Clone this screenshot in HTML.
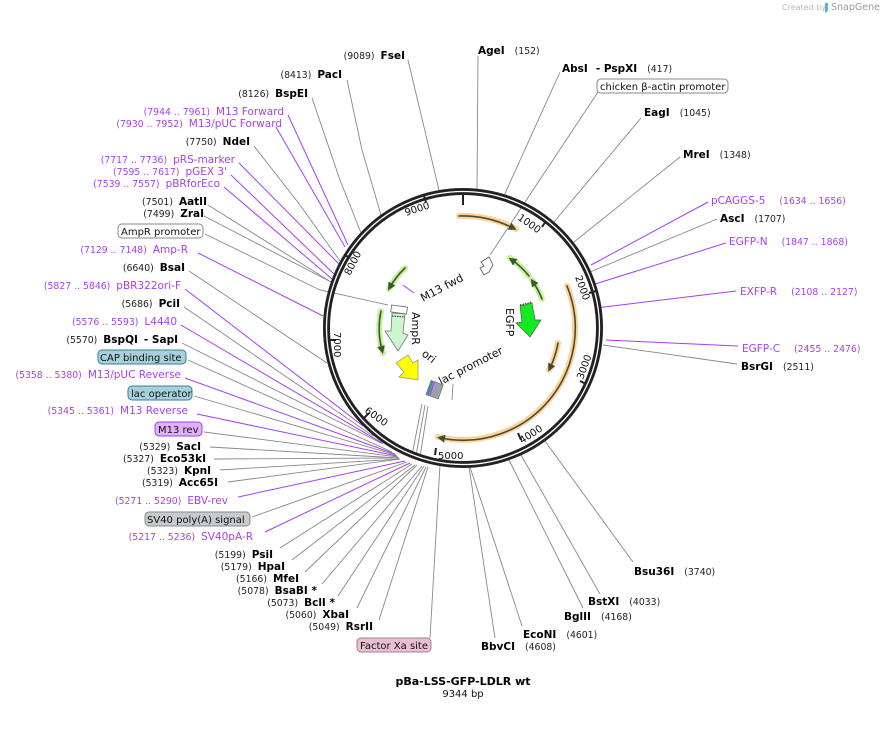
<!DOCTYPE html>
<html><head><meta charset="utf-8"><style>
html,body{margin:0;padding:0;background:#fff;}
svg{display:block;font-family:"DejaVu Sans","Liberation Sans",sans-serif;}
.n{font-size:9.3px;fill:#222;}
.b{font-size:10.5px;font-weight:bold;fill:#000;}
.p{font-size:10.5px;fill:#a63ff0;}
.pn{font-size:9.3px;fill:#a63ff0;}
.l{stroke:#888;stroke-width:0.9;fill:none;}
.lp{stroke:#a63ff0;stroke-width:1;fill:none;}
.t{font-size:10px;fill:#111;}
</style></head><body>
<svg width="880" height="730" viewBox="0 0 880 730" xmlns="http://www.w3.org/2000/svg">
<defs>
<marker id="ao" viewBox="0 0 10 10" refX="5" refY="5" markerWidth="5" markerHeight="5" orient="auto"><path d="M0,0 L10,5 L0,10 z" fill="#4a4a30"/></marker>
<marker id="ag" viewBox="0 0 10 10" refX="5" refY="5" markerWidth="5" markerHeight="5" orient="auto"><path d="M0,0 L10,5 L0,10 z" fill="#3a5a2a"/></marker>
</defs>
<text x="782" y="10" font-size="8" fill="#bbb">Created by</text>
<path d="M825,3 h3 v8 l-3,2 z" fill="#5ab0e0"/>
<text x="831" y="10" font-size="9.5" fill="#999">SnapGene</text>

<g class="l">
<line x1="408" y1="60" x2="439" y2="190"/>
<polyline points="347,80 362,150 381,215"/>
<polyline points="312,98 340,180 361,233"/>
<polyline points="254,146 300,205 340,261"/>
<line x1="208" y1="205" x2="331" y2="282"/>
<line x1="204" y1="216" x2="331" y2="282"/>
<polyline points="205,234 320,290 388,305"/>
<line x1="189" y1="271" x2="327" y2="363"/>
<line x1="184" y1="307" x2="373" y2="436"/>
<line x1="182" y1="343" x2="383" y2="444"/>
<line x1="188" y1="360" x2="392" y2="452"/>
<line x1="194" y1="396" x2="396" y2="455"/>
<line x1="204" y1="432" x2="398" y2="457"/>
<line x1="210" y1="447" x2="399" y2="458"/>
<line x1="214" y1="459" x2="399" y2="458"/>
<line x1="220" y1="470" x2="400" y2="459"/>
<line x1="228" y1="482" x2="400" y2="459"/>
<line x1="252" y1="517" x2="407" y2="462"/>
<line x1="280" y1="548" x2="412" y2="464"/>
<line x1="292" y1="560" x2="415" y2="465"/>
<line x1="305" y1="572" x2="417" y2="465"/>
<line x1="322" y1="584" x2="422" y2="466"/>
<line x1="338" y1="596" x2="424" y2="466"/>
<line x1="357" y1="608" x2="426" y2="467"/>
<line x1="379" y1="620" x2="428" y2="467"/>
<line x1="430" y1="638" x2="440" y2="465"/>
<line x1="412" y1="455" x2="422" y2="404"/>
<line x1="416" y1="456" x2="425" y2="405"/>
<line x1="420" y1="457" x2="428" y2="406"/>
<line x1="495" y1="638" x2="469" y2="467"/>
<line x1="522" y1="626" x2="470" y2="467"/>
<line x1="583" y1="608" x2="509" y2="460"/>
<line x1="600" y1="594" x2="521" y2="455"/>
<line x1="633" y1="562" x2="545" y2="441"/>
<line x1="737" y1="364" x2="603" y2="345"/>
<line x1="717" y1="219" x2="590" y2="272"/>
<line x1="680" y1="157" x2="574" y2="242"/>
<line x1="641" y1="118" x2="554" y2="222"/>
<line x1="598" y1="92" x2="490" y2="255"/>
<line x1="560" y1="72" x2="503" y2="198"/>
<line x1="478" y1="56" x2="477" y2="191"/>
<line x1="453" y1="384" x2="452" y2="400"/>
</g>
<g class="lp">
<line x1="288" y1="115" x2="348" y2="245"/>
<line x1="276" y1="127" x2="345" y2="247"/>
<line x1="239" y1="163" x2="339" y2="264"/>
<line x1="231" y1="175" x2="334" y2="274"/>
<line x1="224" y1="187" x2="332" y2="279"/>
<line x1="198" y1="253" x2="323" y2="316"/>
<line x1="185" y1="289" x2="363" y2="426"/>
<line x1="181" y1="325" x2="382" y2="443"/>
<line x1="185" y1="378" x2="395" y2="454"/>
<line x1="197" y1="414" x2="397" y2="456"/>
<line x1="238" y1="497" x2="405" y2="461"/>
<line x1="265" y1="532" x2="410" y2="463"/>
<line x1="708" y1="202" x2="591" y2="265"/>
<line x1="726" y1="243" x2="595" y2="284"/>
<line x1="736" y1="291" x2="596" y2="308"/>
<line x1="738" y1="346" x2="606" y2="340"/>
<line x1="403" y1="285" x2="414" y2="293"/>
</g>

<circle cx="463" cy="328" r="136.5" fill="none" stroke="#222" stroke-width="7"/>
<circle cx="463" cy="328" r="136.5" fill="none" stroke="#fff" stroke-width="1.3"/>
<g stroke="#222" stroke-width="2">
<line x1="463" y1="193" x2="463" y2="205"/>
<line x1="546" y1="221" x2="542" y2="227"/>
<line x1="596" y1="291" x2="589" y2="293"/>
<line x1="586" y1="384" x2="580" y2="381"/>
<line x1="521" y1="440" x2="518" y2="433"/>
<line x1="435" y1="455" x2="436" y2="448"/>
<line x1="364" y1="418" x2="369" y2="413"/>
<line x1="330" y1="340" x2="336" y2="340"/>
<line x1="345" y1="255" x2="350" y2="258"/>
<line x1="424" y1="196" x2="426" y2="202"/>
</g>
<g class="t">
<text x="406" y="216" transform="rotate(-18 406 216)">9000</text>
<text x="517" y="219" transform="rotate(35 517 219)">1000</text>
<text x="575" y="277" transform="rotate(70 575 277)">2000</text>
<text x="583" y="380" transform="rotate(-70 583 380)">3000</text>
<text x="522" y="444" transform="rotate(-33 522 444)">4000</text>
<text x="438" y="459">5000</text>
<text x="364" y="412" transform="rotate(35 364 412)">6000</text>
<text x="334" y="332" transform="rotate(90 334 332)">7000</text>
<text x="350" y="276" transform="rotate(-63 350 276)">8000</text>
</g>

<g fill="none" stroke-linecap="round">
<path d="M459,216 A112,112 0 0 1 516,229" stroke="#fcd39a" stroke-width="6"/>
<path d="M459,216 A112,112 0 0 1 513,228" stroke="#4a4a30" stroke-width="1.6" marker-end="url(#ao)"/>
<path d="M567,286 A112,112 0 0 1 438,437" stroke="#fcd39a" stroke-width="6"/>
<path d="M567,286 A112,112 0 0 1 441,438" stroke="#4a4a30" stroke-width="1.6" marker-end="url(#ao)"/>
<path d="M558,343 A96,96 0 0 1 549,370" stroke="#fcd39a" stroke-width="6"/>
<path d="M558,343 A96,96 0 0 1 550,368" stroke="#4a4a30" stroke-width="1.6" marker-end="url(#ao)"/>
<path d="M542,299 A84,84 0 0 0 532,280" stroke="#c6f0a0" stroke-width="6"/>
<path d="M542,299 A84,84 0 0 0 533,282" stroke="#3a5a2a" stroke-width="1.6" marker-end="url(#ag)"/>
<path d="M529,276 A84,84 0 0 0 510,258" stroke="#c6f0a0" stroke-width="6"/>
<path d="M529,276 A84,84 0 0 0 512,260" stroke="#3a5a2a" stroke-width="1.6" marker-end="url(#ag)"/>
<path d="M405,268 A84,84 0 0 0 389,289" stroke="#c6f0a0" stroke-width="6"/>
<path d="M405,268 A84,84 0 0 0 390,287" stroke="#3a5a2a" stroke-width="1.6" marker-end="url(#ag)"/>
<path d="M381,311 A84,84 0 0 0 383,353" stroke="#c6f0a0" stroke-width="6"/>
<path d="M381,311 A84,84 0 0 0 382,350" stroke="#3a5a2a" stroke-width="1.6" marker-end="url(#ag)"/>
</g>
<rect x="391" y="306" width="16" height="7" fill="#fff" stroke="#666" stroke-width="0.8" transform="rotate(8 399 310)"/>
<polygon points="392,313 405,314 403,333 408,335 398,351 385,331 391,331" fill="#cdf6d0" stroke="#777" stroke-width="0.8"/>
<line x1="392" y1="316" x2="405" y2="317" stroke="#222" stroke-dasharray="1.5,1"/>
<polygon points="520,306 532,303 535,320 541,320 530,337 516,323 522,322" fill="#10ec20" stroke="#555" stroke-width="0.7"/>
<line x1="520" y1="305" x2="532" y2="302" stroke="#222" stroke-dasharray="1.5,1"/>
<polygon points="396,363 408,355 413,363 418,360 418,380 399,377 404,372" fill="#ffff00" stroke="#888" stroke-width="0.7"/>
<polygon points="481,262 489,257 493,265 489,272 484,275 480,268 484,266" fill="#fff" stroke="#555" stroke-width="0.8"/>
<g transform="rotate(20 434 390)">
<rect x="428" y="382" width="13" height="15" fill="#9aa0a8" stroke="#666" stroke-width="0.6"/>
<rect x="428" y="382" width="2.5" height="15" fill="#3a8fa0"/>
<rect x="431" y="382" width="1.2" height="15" fill="#a63ff0"/>
</g>
<g font-size="11" fill="#111">
<text x="423" y="302" transform="rotate(-28 423 302)">M13 fwd</text>
<text x="412" y="312" transform="rotate(90 412 312)">AmpR</text>
<text x="506" y="308" transform="rotate(90 506 308)">EGFP</text>
<text x="421" y="355" transform="rotate(38 421 355)">ori</text>
<text x="441" y="385" transform="rotate(-27 441 385)">lac promoter</text>
</g>

<g text-anchor="end">
<text x="405" y="59"><tspan class="n">(9089)</tspan><tspan class="b" dx="6">FseI</tspan></text>
<text x="342" y="78"><tspan class="n">(8413)</tspan><tspan class="b" dx="6">PacI</tspan></text>
<text x="308" y="97"><tspan class="n">(8126)</tspan><tspan class="b" dx="6">BspEI</tspan></text>
<text x="284" y="115"><tspan class="pn">(7944 .. 7961)</tspan><tspan class="p" dx="6">M13 Forward</tspan></text>
<text x="282" y="127"><tspan class="pn">(7930 .. 7952)</tspan><tspan class="p" dx="6">M13/pUC Forward</tspan></text>
<text x="250" y="145"><tspan class="n">(7750)</tspan><tspan class="b" dx="6">NdeI</tspan></text>
<text x="235" y="163"><tspan class="pn">(7717 .. 7736)</tspan><tspan class="p" dx="6">pRS-marker</tspan></text>
<text x="227" y="175"><tspan class="pn">(7595 .. 7617)</tspan><tspan class="p" dx="6">pGEX 3'</tspan></text>
<text x="220" y="187"><tspan class="pn">(7539 .. 7557)</tspan><tspan class="p" dx="6">pBRforEco</tspan></text>
<text x="207" y="205"><tspan class="n">(7501)</tspan><tspan class="b" dx="6">AatII</tspan></text>
<text x="204" y="217"><tspan class="n">(7499)</tspan><tspan class="b" dx="6">ZraI</tspan></text>
<text x="188" y="253"><tspan class="pn">(7129 .. 7148)</tspan><tspan class="p" dx="6">Amp-R</tspan></text>
<text x="185" y="271"><tspan class="n">(6640)</tspan><tspan class="b" dx="6">BsaI</tspan></text>
<text x="181" y="289"><tspan class="pn">(5827 .. 5846)</tspan><tspan class="p" dx="6">pBR322ori-F</tspan></text>
<text x="180" y="307"><tspan class="n">(5686)</tspan><tspan class="b" dx="6">PciI</tspan></text>
<text x="177" y="325"><tspan class="pn">(5576 .. 5593)</tspan><tspan class="p" dx="6">L4440</tspan></text>
<text x="178" y="343"><tspan class="n">(5570)</tspan><tspan class="b" dx="6">BspQI</tspan><tspan class="b" dx="6">- SapI</tspan></text>
<text x="181" y="378"><tspan class="pn">(5358 .. 5380)</tspan><tspan class="p" dx="6">M13/pUC Reverse</tspan></text>
<text x="188" y="414"><tspan class="pn">(5345 .. 5361)</tspan><tspan class="p" dx="6">M13 Reverse</tspan></text>
<text x="201" y="450"><tspan class="n">(5329)</tspan><tspan class="b" dx="6">SacI</tspan></text>
<text x="206" y="462"><tspan class="n">(5327)</tspan><tspan class="b" dx="6">Eco53kI</tspan></text>
<text x="211" y="474"><tspan class="n">(5323)</tspan><tspan class="b" dx="6">KpnI</tspan></text>
<text x="218" y="486"><tspan class="n">(5319)</tspan><tspan class="b" dx="6">Acc65I</tspan></text>
<text x="228" y="504"><tspan class="pn">(5271 .. 5290)</tspan><tspan class="p" dx="6">EBV-rev</tspan></text>
<text x="253" y="540"><tspan class="pn">(5217 .. 5236)</tspan><tspan class="p" dx="6">SV40pA-R</tspan></text>
<text x="273" y="558"><tspan class="n">(5199)</tspan><tspan class="b" dx="6">PsiI</tspan></text>
<text x="285" y="570"><tspan class="n">(5179)</tspan><tspan class="b" dx="6">HpaI</tspan></text>
<text x="299" y="582"><tspan class="n">(5166)</tspan><tspan class="b" dx="6">MfeI</tspan></text>
<text x="317" y="594"><tspan class="n">(5078)</tspan><tspan class="b" dx="6">BsaBI *</tspan></text>
<text x="335" y="606"><tspan class="n">(5073)</tspan><tspan class="b" dx="6">BclI *</tspan></text>
<text x="349" y="618"><tspan class="n">(5060)</tspan><tspan class="b" dx="6">XbaI</tspan></text>
<text x="373" y="630"><tspan class="n">(5049)</tspan><tspan class="b" dx="6">RsrII</tspan></text>
</g>
<g font-size="10" fill="#111">
<rect x="118" y="224" width="85" height="14" rx="4" fill="#fff" stroke="#888"/><text x="121" y="235" fill="#111">AmpR promoter</text>
<rect x="98" y="350" width="88" height="14" rx="4" fill="#a8d0dc" stroke="#3a7f90"/><text x="100" y="361" fill="#111">CAP binding site</text>
<rect x="128" y="386" width="64" height="14" rx="4" fill="#a8d0dc" stroke="#3a7f90"/><text x="131" y="397" fill="#111">lac operator</text>
<rect x="155" y="422" width="47" height="14" rx="4" fill="#e0b0f8" stroke="#a63ff0"/><text x="158" y="433" fill="#111">M13 rev</text>
<rect x="145" y="512" width="105" height="14" rx="4" fill="#c8cacc" stroke="#888"/><text x="147" y="523" fill="#111">SV40 poly(A) signal</text>
<rect x="357" y="638" width="74" height="14" rx="4" fill="#e8c0d0" stroke="#a08090"/><text x="360" y="649" fill="#111">Factor Xa site</text>
<rect x="597" y="79" width="131" height="14" rx="4" fill="#fff" stroke="#888"/><text x="600" y="90" fill="#111">chicken β-actin promoter</text>
</g>

<text x="478" y="54"><tspan class="b">AgeI</tspan><tspan class="n" dx="10">(152)</tspan></text>
<text x="562" y="72"><tspan class="b">AbsI</tspan><tspan class="b" dx="8">- PspXI</tspan><tspan class="n" dx="10">(417)</tspan></text>
<text x="644" y="116"><tspan class="b">EagI</tspan><tspan class="n" dx="10">(1045)</tspan></text>
<text x="683" y="158"><tspan class="b">MreI</tspan><tspan class="n" dx="10">(1348)</tspan></text>
<text x="711" y="204"><tspan class="p">pCAGGS-5</tspan><tspan class="pn" dx="14">(1634 .. 1656)</tspan></text>
<text x="720" y="222"><tspan class="b">AscI</tspan><tspan class="n" dx="10">(1707)</tspan></text>
<text x="729" y="245"><tspan class="p">EGFP-N</tspan><tspan class="pn" dx="14">(1847 .. 1868)</tspan></text>
<text x="740" y="295"><tspan class="p">EXFP-R</tspan><tspan class="pn" dx="14">(2108 .. 2127)</tspan></text>
<text x="742" y="352"><tspan class="p">EGFP-C</tspan><tspan class="pn" dx="14">(2455 .. 2476)</tspan></text>
<text x="741" y="370"><tspan class="b">BsrGI</tspan><tspan class="n" dx="10">(2511)</tspan></text>
<text x="634" y="575"><tspan class="b">Bsu36I</tspan><tspan class="n" dx="10">(3740)</tspan></text>
<text x="588" y="605"><tspan class="b">BstXI</tspan><tspan class="n" dx="10">(4033)</tspan></text>
<text x="564" y="620"><tspan class="b">BglII</tspan><tspan class="n" dx="10">(4168)</tspan></text>
<text x="523" y="638"><tspan class="b">EcoNI</tspan><tspan class="n" dx="10">(4601)</tspan></text>
<text x="481" y="650"><tspan class="b">BbvCI</tspan><tspan class="n" dx="10">(4608)</tspan></text>

<text x="463" y="685" text-anchor="middle" font-size="11" font-weight="bold" fill="#000">pBa-LSS-GFP-LDLR wt</text>
<text x="463" y="697" text-anchor="middle" font-size="10" fill="#111">9344 bp</text>
</svg>
</body></html>
